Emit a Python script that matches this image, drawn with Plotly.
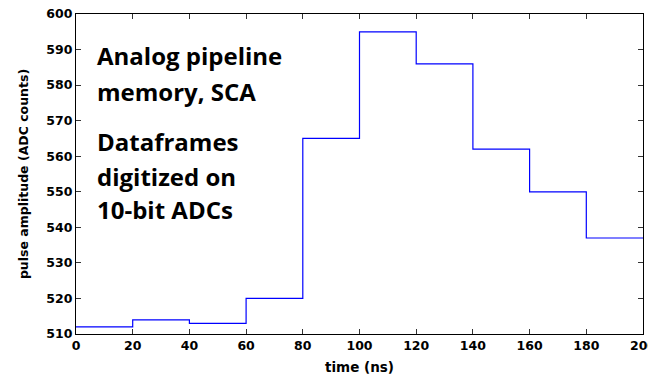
import plotly.graph_objects as go

# Data
time_starts = [0, 20, 40, 60, 80, 100, 120, 140, 160, 180]
time_end = 200
amplitudes = [512, 514, 513, 520, 565, 595, 586, 562, 550, 537]
x_ticks = [0, 20, 40, 60, 80, 100, 120, 140, 160, 180, 200]
y_ticks = [510, 520, 530, 540, 550, 560, 570, 580, 590, 600]
text_lines = ["Analog pipeline", "memory, SCA", "Dataframes", "digitized on", "10-bit ADCs"]

W, H = 648, 376
ML, MR, MT, MB = 76, 5, 14, 42

xs = time_starts + [time_end]
ys = amplitudes + [amplitudes[-1]]

fig = go.Figure()
fig.add_trace(go.Scatter(
    x=xs, y=ys, mode="lines", line=dict(color="#0000ff", width=1.2, shape="hv"),
    showlegend=False, hoverinfo="skip"))

plot_h = H - MT - MB
centers_px = [56, 91, 141, 176, 209]
for t, py in zip(text_lines, centers_px):
    fig.add_annotation(
        text=t, xref="paper", yref="paper",
        x=(95 - ML) / (W - ML - MR), y=(H - MB - py) / plot_h,
        xanchor="left", yanchor="middle", showarrow=False,
        font=dict(family="Open Sans", size=24, color="black", weight="bold"))

axis_font = dict(family="DejaVu Sans", size=12.5, color="black", weight="bold")
fig.update_xaxes(
    range=[0, 200], tickvals=x_ticks, ticktext=[str(v) for v in x_ticks],
    ticks="inside", ticklen=5, tickcolor="#333", tickwidth=1,
    ticklabeloverflow="allow", automargin=False,
    showline=True, linecolor="black", linewidth=1.3, mirror="ticks",
    showgrid=False, zeroline=False, tickfont=axis_font,
    title=dict(text="time (ns)", font=dict(family="DejaVu Sans", size=13.5, color="black", weight="bold"), standoff=10))
fig.update_yaxes(
    range=[510, 600], tickvals=y_ticks, ticktext=[str(v) for v in y_ticks],
    ticks="inside", ticklen=5, tickcolor="#333", tickwidth=1,
    automargin=False,
    showline=True, linecolor="black", linewidth=1.3, mirror="ticks",
    showgrid=False, zeroline=False, tickfont=axis_font,
    title=dict(text="pulse amplitude (ADC counts)", font=dict(family="DejaVu Sans", size=12.5, color="black", weight="bold"), standoff=14))

fig.update_layout(
    width=W, height=H, margin=dict(l=ML, r=MR, t=MT, b=MB, autoexpand=False),
    paper_bgcolor="white", plot_bgcolor="white")

fig.write_html("out.html")
